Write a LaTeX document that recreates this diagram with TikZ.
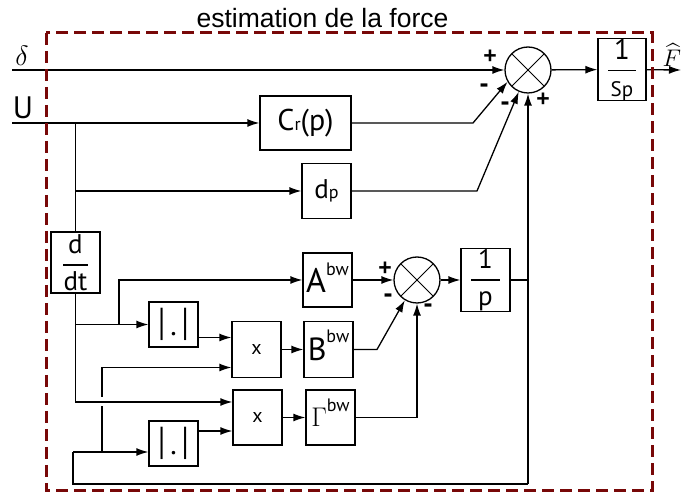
\RequirePackage{fix-cm}
\documentclass[tikz,border=0pt]{standalone}
\usepackage{amsmath}
\usepackage{graphicx}
\usepackage{fontspec}
\usepackage{tikz}
\usetikzlibrary{arrows.meta,calc}
\newfontfamily\boxfont{PT Sans}
\newfontfamily\titlefont{Liberation Sans}
\definecolor{dashred}{RGB}{120,8,8}
\newcommand{\fsz}[1]{\fontsize{#1}{#1}\selectfont}
\newcommand{\bfrac}[3][28pt]{$\genfrac{}{}{1.2pt}{0}{\makebox[#1]{#2}}{\makebox[#1]{#3}}$}
\newcommand{\absbar}{\scalebox{1}[1.3]{|}}

\begin{document}
\begin{tikzpicture}[x=1pt,y=-1pt,>={Latex[length=12pt,width=8pt]},line width=1.3pt,
    block/.style={draw,minimum width=49pt,minimum height=55pt,inner sep=0pt,font=\boxfont\fsz{27}},
    sum node/.style={circle,draw,minimum size=46pt,inner sep=0pt,
      path picture={\draw[line width=1pt] (path picture bounding box.north west) -- (path picture bounding box.south east)
        (path picture bounding box.south west) -- (path picture bounding box.north east);}},
    sign/.style={font=\titlefont\bfseries\fsz{23},inner sep=0pt},
    minus/.style={font=\titlefont\bfseries\fsz{27},inner sep=0pt}]
\useasboundingbox (0,0) rectangle (681,494);

\node[font=\titlefont\fsz{26.5},anchor=base] (title) at (322.5,28) {estimation de la force};

\node[block,minimum width=48pt,minimum height=59pt] (sp) at (622,69.5) {\bfrac[28pt]{\fsz{29}1}{\fsz{21}Sp}};
\node[sum node] (sum1) at (528,70) {};
\node[block,minimum width=91pt,minimum height=54pt,font=\boxfont\fsz{30}] (cr) at (305.5,123) {C{\fsz{18}r}(p)};
\node[block] (dp) at (326.5,191) {d{\fsz{18}p}};
\node[block,minimum height=61pt] (ddt) at (75.5,262.5) {\bfrac[25pt]{d}{dt}};
\node[block,minimum height=54pt] (A) at (327.5,280) {{\fsz{34}A}\raisebox{17pt}[0pt][0pt]{\fsz{18}bw}};
\node[sum node] (sum2) at (417,280) {};
\node[block,minimum height=63pt,font=\boxfont\fsz{27}] (p) at (485.5,280) {\bfrac[29pt]{1}{p}};
\node[block,minimum height=45pt,font=\boxfont\fsz{30}] (abs1) at (173.5,324.5) {\absbar\hspace{5pt}.\hspace{5pt}\absbar};
\node[block,minimum height=56pt,font=\boxfont\fsz{20}] (mul1) at (256.5,349.5) {x};
\node[block,minimum height=56pt] (B) at (328.5,349.5) {{\fsz{32}B}\raisebox{18pt}[0pt][0pt]{\fsz{18}bw}};
\node[block,font=\boxfont\fsz{20}] (mul2) at (257.5,417.5) {x};
\node[block] (G) at (330.5,417.5) {{\fsz{27}$\Gamma$}\raisebox{15pt}[0pt][0pt]{\fsz{18}bw}};
\node[block,minimum height=45pt,font=\boxfont\fsz{30}] (abs2) at (173.5,443.5) {\absbar\hspace{5pt}.\hspace{5pt}\absbar};

\node[font=\fsz{28}] (dlabel) at (22,56) {$\delta$};
\node[font=\boxfont\fsz{31}] (ulabel) at (23,108) {U};
\node[font=\fsz{24},anchor=west,inner sep=0pt] (flabel) at (662,55) {$\widehat{F}$};

\node[sign] (p1) at (490,57) {+};
\node[minus] (m1) at (484,88) {-};
\node[minus] (m2) at (505,106) {-};
\node[sign] (p2) at (543,100) {+};
\node[sign] (p3) at (385,269) {+};
\node[minus] (m3) at (388,298) {-};
\node[minus] (m4) at (428,308) {-};

\coordinate (din) at (12,70);
\coordinate (uin) at (12,123);
\coordinate (fout) at (681,70);
\coordinate (kcr) at (473,123);
\coordinate (kdp) at (477,191);
\coordinate (kb) at (377,349.5);
\coordinate (kA) at (119,324.5);
\coordinate (lb) at (73,484);
\coordinate (jx) at (102,0);
\coordinate (m1a) at ($(mul1.west)+(0,-12)$);
\coordinate (m1b) at ($(mul1.west)+(0,18)$);
\coordinate (m2a) at ($(mul2.west)+(0,-15.5)$);
\coordinate (m2b) at ($(mul2.west)+(0,13.5)$);
\coordinate (a2in) at ($(abs2.west)+(0,8.5)$);

\draw[->] (din) -- (sum1);
\draw[->] (uin) -- (cr);
\draw (ddt.north) -- (ddt.north |- uin);
\draw[->] (ddt.north |- dp.west) -- (dp);
\draw[->] (cr) -- (kcr) -- (sum1.210);
\draw[->] (dp) -- (kdp) -- (sum1.247);
\draw[->] (sum1) -- (sp);
\draw[->] (sp) -- (fout);

\draw[->] (ddt.south) -- (ddt.south |- m2a) -- (m2a);
\draw[->] (ddt.south |- abs1.west) -- (abs1);
\draw[->] (kA) -- (kA |- A.west) -- (A);
\draw[->] (abs1.east |- m1a) -- (m1a);
\draw[->] (jx |- m1b) -- (m1b);
\draw (jx |- m1b) -- ++(0,30);
\draw (jx |- a2in) -- ++(0,-46);
\draw[->] (lb |- a2in) -- (a2in);
\draw (lb |- a2in) -- (lb) -- (lb -| sum1.south);
\draw[->] (lb -| sum1.south) -- (sum1);
\draw (p) -- (p.east -| sum1.south);
\draw[->] (abs2.east |- m2b) -- (m2b);

\draw[->] (mul1) -- (B);
\draw[->] (mul2) -- (G);
\draw[->] (A) -- (sum2);
\draw[->] (B) -- (kb) -- (sum2.239);
\draw[->] (G) -- (G.east -| sum2.south) -- (sum2);
\draw[->] (sum2) -- (p);

\draw[dashred,line width=3pt,dash pattern=on 12pt off 6pt] (46,33) rectangle (652,491);
\end{tikzpicture}
\end{document}
